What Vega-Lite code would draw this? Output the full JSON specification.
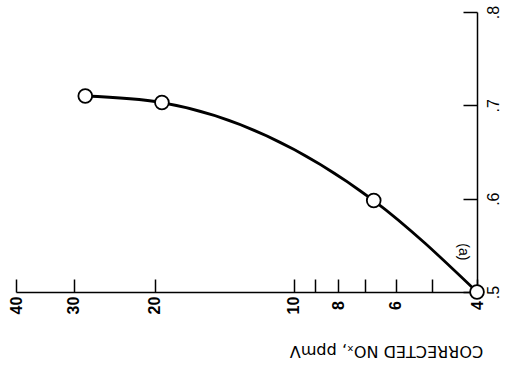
{
  "$schema": "https://vega.github.io/schema/vega-lite/v6.json",
  "autosize": "none",
  "width": 461,
  "height": 280,
  "padding": {"left": 16, "top": 12, "right": 32, "bottom": 74},
  "background": "white",
  "config": {"view": {"stroke": null}, "font": "Liberation Sans"},
  "datasets": {
    "pts": [
      {"nox": 28.3, "eff": 0.71},
      {"nox": 19.3, "eff": 0.703},
      {"nox": 6.7, "eff": 0.598},
      {"nox": 4.0, "eff": 0.5}
    ],
    "note": [{"nox": 4.3, "eff": 0.543, "label": "(a)"}]
  },
  "layer": [
    {
      "data": {"name": "pts"},
      "mark": {"type": "line", "interpolate": "monotone", "color": "black", "strokeWidth": 2.8},
      "encoding": {
        "x": {
          "field": "nox", "type": "quantitative",
          "scale": {"type": "log", "domain": [4, 40], "reverse": true, "nice": false},
          "axis": {
            "orient": "bottom",
            "values": [4, 5, 6, 7, 8, 9, 10, 20, 30, 40],
            "labelExpr": "indexof([5,7,9], datum.value) >= 0 ? '' : datum.label",
            "format": "d",
            "grid": false,
            "domainColor": "black", "domainWidth": 1.5,
            "tickColor": "black", "tickWidth": 1.5,
            "tickSize": -13,
            "labelAngle": 270,
            "labelAlign": "center",
            "labelBaseline": "middle",
            "labelPadding": 26,
            "labelFontSize": 16,
            "labelFontWeight": "bold",
            "labelColor": "black",
            "labelFlush": false,
            "labelOverlap": false,
            "title": "CORRECTED NOₓ, ppmV",
            "titleFont": "DejaVu Sans",
            "titleAngle": 180,
            "titleX": 370,
            "titleY": 58,
            "titleAlign": "center",
            "titleBaseline": "middle",
            "titleFontSize": 16,
            "titleFontWeight": "normal",
            "titleColor": "black"
          }
        },
        "y": {
          "field": "eff", "type": "quantitative",
          "scale": {"domain": [0.5, 0.8], "nice": false, "zero": false},
          "axis": {
            "orient": "right",
            "values": [0.5, 0.6, 0.7, 0.8],
            "labelExpr": "replace(format(datum.value, '.1f'), '0.', '.')",
            "grid": false,
            "domainColor": "black", "domainWidth": 1.5,
            "tickColor": "black", "tickWidth": 1.5,
            "tickSize": -14,
            "labelAngle": 270,
            "labelAlign": "center",
            "labelBaseline": "middle",
            "labelPadding": 30,
            "labelFontSize": 16,
            "labelColor": "black",
            "labelFlush": false,
            "labelOverlap": false,
            "title": null
          }
        }
      }
    },
    {
      "data": {"name": "pts"},
      "mark": {"type": "point", "shape": "circle", "filled": true, "fill": "white", "stroke": "black", "strokeWidth": 1.8, "size": 190, "opacity": 1},
      "encoding": {
        "x": {"field": "nox", "type": "quantitative"},
        "y": {"field": "eff", "type": "quantitative"}
      }
    },
    {
      "data": {"name": "note"},
      "mark": {"type": "text", "angle": 90, "fontSize": 14, "color": "black", "align": "center", "baseline": "middle"},
      "encoding": {
        "x": {"field": "nox", "type": "quantitative"},
        "y": {"field": "eff", "type": "quantitative"},
        "text": {"field": "label"}
      }
    }
  ]
}
